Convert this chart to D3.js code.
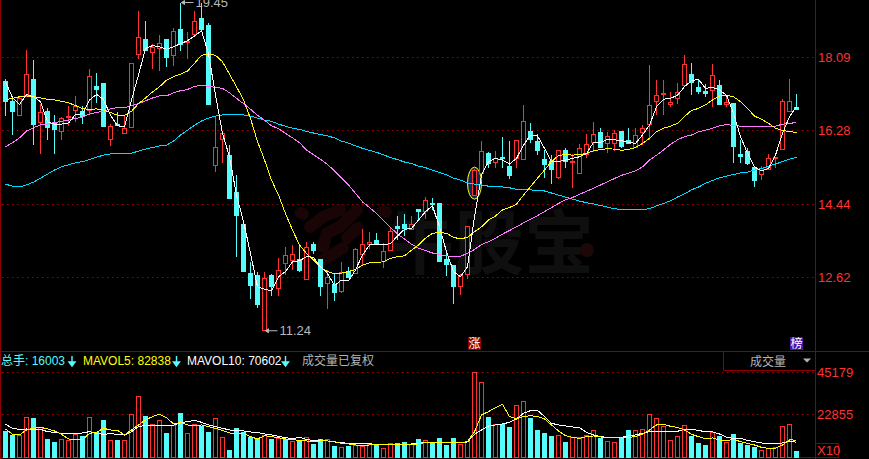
<!DOCTYPE html>
<html><head><meta charset="utf-8">
<script src="https://cdn.jsdelivr.net/npm/d3@7/dist/d3.min.js"></script>
<style>html,body{margin:0;padding:0;background:#000;overflow:hidden}svg{display:block}text{font-family:"Liberation Sans","Noto Sans CJK SC",sans-serif}</style>
</head><body><svg id="c" width="869" height="459"></svg>
<script>
const priceTicks=[18.09,16.28,14.44,12.62];
const volTicks=[45179,22855];
const opens=[17.50,17.00,16.65,17.15,17.55,16.46,16.75,16.44,16.24,16.60,16.76,16.75,16.78,17.36,17.45,16.05,16.43,16.20,16.34,18.15,18.54,18.20,18.31,18.54,18.13,18.79,18.45,18.65,19.06,18.89,15.41,16.05,15.64,14.74,13.93,12.73,12.67,11.30,12.66,12.35,12.96,13.06,13.06,12.57,13.43,13.06,12.49,12.46,12.27,12.77,12.73,13.19,13.45,13.55,13.01,13.30,13.90,13.93,13.83,14.31,14.27,14.45,14.45,13.06,12.91,12.39,12.68,14.66,15.21,15.69,15.46,15.60,15.39,15.59,15.55,16.25,16.01,15.54,15.50,15.12,15.78,15.48,15.22,15.68,15.99,16.23,15.96,15.96,16.24,16.02,15.86,16.24,16.43,16.99,17.15,16.91,17.07,17.39,17.66,17.35,17.25,17.25,17.40,16.92,16.95,15.68,15.74,15.36,15.18,15.31,15.58,15.82,16.75,16.85];
const closes=[17.00,16.74,17.07,17.66,16.43,16.72,16.36,16.28,16.57,16.61,16.86,16.63,17.62,17.29,16.38,16.38,16.41,16.32,17.94,18.58,18.27,18.33,18.43,18.09,18.73,18.42,18.48,18.98,18.79,16.93,15.85,16.19,14.58,14.18,12.77,12.44,11.94,12.60,12.38,12.80,13.17,13.20,12.78,13.37,13.29,12.39,12.63,12.27,12.74,12.62,13.32,13.45,13.49,13.45,13.27,13.77,13.85,13.82,13.95,14.26,14.54,14.44,13.01,12.94,12.39,12.66,13.88,15.27,15.75,15.44,15.57,15.59,15.17,16.03,16.50,16.04,15.79,15.41,15.29,15.78,15.51,15.51,15.83,15.93,16.18,15.86,16.13,16.20,15.86,15.95,16.15,16.33,16.90,17.13,17.18,16.96,17.22,17.92,17.46,17.26,17.21,17.63,16.93,16.98,15.87,15.62,15.44,15.03,15.32,15.58,15.60,17.00,17.00,16.81];
const highs=[17.56,17.11,17.11,18.27,18.02,16.94,16.84,16.65,16.61,16.88,17.13,16.88,17.79,17.69,17.45,16.43,16.74,16.65,17.94,19.24,18.99,18.43,18.64,18.54,18.82,19.45,18.72,19.24,19.45,18.93,16.61,16.24,15.91,15.17,13.93,13.01,12.77,12.77,12.71,13.10,13.39,13.43,13.43,13.51,13.51,13.06,12.82,12.71,13.01,12.89,13.35,13.82,13.74,13.72,13.47,13.84,14.15,14.21,14.15,14.31,14.61,14.59,14.45,13.22,12.91,12.71,13.88,15.31,16.01,15.75,15.76,16.11,16.01,16.03,16.91,16.46,16.18,15.79,15.66,15.78,15.83,15.69,15.94,16.18,16.48,16.33,16.23,16.28,16.26,16.33,16.33,16.41,17.90,17.53,17.53,17.24,17.44,18.15,17.94,17.54,17.43,17.92,17.53,17.13,16.95,16.04,15.83,15.37,15.39,15.70,15.60,17.05,17.54,17.18];
const lows=[16.64,16.16,16.65,17.11,15.91,15.68,16.03,15.68,16.03,16.38,16.49,16.43,16.65,16.96,16.38,15.88,16.38,16.20,16.34,18.04,18.27,17.81,17.75,17.85,17.87,18.24,18.06,18.60,18.72,16.93,15.25,15.46,14.58,13.14,12.77,12.09,11.87,11.30,12.17,12.17,12.68,12.81,12.77,12.57,13.20,12.17,11.84,12.05,12.24,12.62,12.71,12.93,13.32,13.43,12.87,13.30,13.55,13.65,13.80,14.05,14.07,14.30,13.01,12.67,11.96,12.19,12.58,14.66,15.21,15.35,15.34,15.34,15.07,15.34,15.55,15.95,15.66,15.09,14.94,15.07,15.35,14.84,15.22,15.58,15.75,15.83,15.72,15.76,15.83,15.93,15.83,15.91,16.04,16.66,16.66,16.86,16.93,17.39,17.15,17.18,17.10,16.86,16.90,16.86,15.47,15.47,15.41,14.88,15.04,15.29,15.33,15.82,16.75,16.80];
const ma5=[17.48,17.09,16.92,17.17,17.11,16.99,16.49,16.43,16.43,16.46,16.67,16.69,17.03,17.17,17.04,16.65,16.39,16.36,17.03,17.65,18.31,18.38,18.35,18.29,18.35,18.43,18.50,18.62,18.75,18.18,17.15,16.20,15.62,14.67,14.01,13.22,12.39,12.33,12.29,12.64,12.77,13.01,13.04,13.14,13.12,12.89,12.72,12.42,12.56,12.54,12.81,13.18,13.43,13.45,13.43,13.47,13.65,13.82,13.84,14.05,14.26,14.40,13.88,13.26,12.77,12.64,12.89,14.13,15.17,15.50,15.58,15.54,15.44,15.58,15.91,16.16,16.14,15.83,15.50,15.50,15.54,15.58,15.62,15.70,15.98,15.98,16.05,16.04,16.02,15.98,15.95,16.16,16.41,16.86,17.05,17.07,17.15,17.36,17.51,17.54,17.32,17.34,17.28,17.15,16.70,16.12,15.71,15.37,15.27,15.33,15.66,16.20,16.62,16.86];
const ma10=[17.04,17.07,17.11,17.13,17.11,17.08,17.05,17.03,17.00,16.96,16.89,16.82,16.79,16.81,16.78,16.72,16.65,16.65,16.75,16.94,17.08,17.23,17.36,17.52,17.61,17.67,17.75,17.94,18.14,18.17,18.14,17.98,17.67,17.36,17.03,16.57,16.00,15.54,15.04,14.67,14.21,13.80,13.43,13.22,13.06,12.87,12.77,12.71,12.73,12.77,12.82,12.93,12.99,13.00,13.01,13.10,13.14,13.16,13.30,13.43,13.60,13.72,13.74,13.72,13.62,13.58,13.62,13.76,13.88,14.05,14.15,14.30,14.36,14.44,14.67,14.88,15.09,15.29,15.50,15.65,15.68,15.66,15.68,15.70,15.77,15.80,15.82,15.81,15.78,15.80,15.85,15.95,16.08,16.24,16.33,16.38,16.45,16.62,16.77,16.82,16.91,17.03,17.13,17.15,17.11,16.99,16.82,16.63,16.55,16.45,16.33,16.27,16.25,16.22];
const ma30=[15.87,15.97,16.09,16.26,16.34,16.41,16.43,16.47,16.50,16.53,16.57,16.61,16.68,16.72,16.75,16.81,16.84,16.84,16.89,16.94,17.01,17.08,17.13,17.13,17.21,17.26,17.29,17.37,17.39,17.37,17.34,17.32,17.21,17.07,16.94,16.80,16.65,16.53,16.39,16.32,16.20,16.09,15.97,15.79,15.67,15.56,15.43,15.27,15.09,14.92,14.71,14.50,14.36,14.21,14.04,13.87,13.70,13.58,13.45,13.35,13.29,13.23,13.19,13.16,13.14,13.15,13.22,13.32,13.44,13.51,13.60,13.70,13.79,13.88,13.98,14.07,14.16,14.26,14.36,14.46,14.55,14.61,14.69,14.76,14.84,14.92,15.00,15.08,15.16,15.21,15.27,15.37,15.54,15.66,15.79,15.93,16.04,16.12,16.16,16.24,16.28,16.33,16.39,16.42,16.40,16.38,16.38,16.37,16.36,16.36,16.38,16.43,16.45,16.47];
const ma60=[14.94,14.89,14.87,14.92,14.99,15.09,15.19,15.29,15.37,15.42,15.47,15.50,15.55,15.61,15.66,15.69,15.70,15.71,15.71,15.76,15.81,15.85,15.89,15.91,16.01,16.16,16.28,16.40,16.51,16.58,16.63,16.66,16.67,16.67,16.66,16.63,16.58,16.53,16.50,16.43,16.38,16.33,16.30,16.25,16.21,16.17,16.14,16.09,16.01,15.96,15.89,15.83,15.78,15.73,15.67,15.60,15.55,15.49,15.45,15.39,15.35,15.29,15.23,15.17,15.09,15.04,14.97,14.94,14.92,14.89,14.88,14.87,14.85,14.81,14.80,14.80,14.78,14.77,14.72,14.67,14.62,14.57,14.52,14.48,14.45,14.41,14.37,14.33,14.31,14.30,14.30,14.31,14.33,14.40,14.46,14.53,14.62,14.70,14.80,14.87,14.96,15.03,15.10,15.14,15.18,15.22,15.24,15.29,15.33,15.39,15.44,15.50,15.56,15.61];
const volumes=[13350,11214,11570,21182,20292,15486,9078,7476,9434,8900,11926,10680,21182,13172,19224,8544,8544,8900,22784,32396,21360,17088,19580,12282,16910,22962,12638,17444,16020,12816,20648,10502,3204,15308,13172,10324,9078,11392,9078,9612,9078,8366,8722,10502,6408,9434,9256,5340,5162,5340,6052,5340,6408,5874,4628,7298,7298,7832,6408,9078,8900,6942,9612,5874,9612,6764,8366,45179,39872,20826,17088,17088,15486,27590,29726,20292,13884,12282,10680,11570,7476,10146,10146,11570,14240,9612,8366,7832,9790,13884,14240,14774,22428,20648,16020,8900,10680,16910,10680,6942,5874,13172,10680,7476,11748,6942,5874,4806,3560,4272,4806,16376,17444,2670];
const volUp=[0,0,1,1,0,1,0,0,1,1,1,0,1,0,0,1,0,1,1,1,0,1,1,0,1,0,1,1,0,0,1,1,0,0,0,0,0,1,0,1,0,1,0,1,0,0,1,0,1,0,1,1,1,0,1,1,0,0,1,0,1,0,0,0,0,1,1,1,1,0,1,0,0,1,1,0,0,0,0,1,0,1,1,1,1,0,1,1,0,0,1,1,1,1,1,1,1,1,0,0,0,1,0,1,0,0,0,0,1,1,1,1,1,0];
const mavol5=[14950,12100,11750,14420,15310,15840,14950,13880,12100,9610,9260,9260,12640,13170,15310,14420,14240,11750,14420,17090,19760,21540,22780,21000,17620,18330,17090,16730,17090,16200,15310,14060,12820,12640,12640,10860,9610,11390,10860,10320,9610,9430,8720,8540,8190,8540,8540,8190,7300,6940,6410,6050,6410,6410,6590,6590,6410,6410,6410,7120,7650,7650,7650,7650,7650,7650,8190,13530,22430,24210,26340,28120,21540,20290,21540,22070,21540,20290,17090,13880,11390,10500,9970,10860,11210,10680,10320,10320,10320,10500,10860,12100,14420,17090,17440,16380,15840,14420,12100,10860,9790,10150,9080,8720,9430,8190,7300,6410,5160,4630,4630,6410,9260,8900];
const mavol10=[17440,15310,14770,14950,14770,14770,13530,13170,12640,12460,12460,12820,13530,12640,12100,12460,12100,11750,13530,16200,16910,16910,16910,16910,16910,18330,18870,19580,18510,17090,16200,15310,14420,14240,13880,13350,13170,12280,11750,11040,10320,9790,10500,9430,8720,9080,8540,8010,7650,7300,7300,7300,7120,6590,6760,6760,6760,6760,6940,7300,7830,7830,7830,7830,7830,7830,8010,12100,14420,16550,17090,17620,18510,20290,23320,24740,24920,21540,17980,17090,16550,16020,15660,13170,11750,10860,10500,10500,10500,11210,11750,12640,13530,13710,13710,13710,13710,14770,14770,14240,13350,13350,12280,10500,9970,9970,8900,8190,7480,7300,7300,7480,8540,7830];
const peakLabel="19.45", troughLabel="11.24";
const peakIdx=25, troughIdx=37;
const legendTexts=[["总手: 16003",1,"#54fcfc"],["MAVOL5: 82838",83,"#ffff00"],["MAVOL10: 70602",187,"#ffffff"],["成交量已复权",302,"#b4b4b4"]];

const svg=d3.select("#c");
const RED="#ff3232",CYAN="#54fcfc",FRAME="#8c0000";
const x=d3.scaleLinear().domain([0,113]).range([5.5,796.5]);
const y=d3.scaleLinear().domain([18.09,12.62]).range([57.3,277.6]);
const yv=d3.scaleLinear().domain([0,45179]).range([457,372.3]);
const px=v=>Math.round(v-.5)+.5;

// watermark
const wm=svg.append("g");
wm.append("path").attr("d","M301 213 L303 214 M310 227 L323 217 L340 210 M323 247 L327 233 L340 227 L357 210 M323 260 L343 248 M383 211 L386 212 M347 238 L358 228")
  .attr("fill","none").attr("stroke","#190505").attr("stroke-width",12).attr("stroke-linecap","round").attr("stroke-linejoin","round");
wm.append("text").attr("x",384).attr("y",269).attr("font-size",70).attr("font-weight","bold").attr("fill","#0f0f0f")
  .attr("font-family","Noto Sans CJK SC").text("牛股宝");
wm.append("circle").attr("cx",587).attr("cy",250).attr("r",7).attr("fill","#1d0707");

// grid
const dot=(yy)=>svg.append("line").attr("x1",2).attr("x2",815).attr("y1",yy).attr("y2",yy).attr("stroke","#a00000").attr("stroke-dasharray","1.5 3.5");
priceTicks.forEach(t=>dot(px(y(t))));
volTicks.forEach(t=>dot(px(yv(t))));

// frame
const fr=svg.append("g").attr("stroke",FRAME).attr("fill","none").attr("shape-rendering","crispEdges");
fr.append("line").attr("x1",.5).attr("x2",.5).attr("y1",0).attr("y2",459);
fr.append("line").attr("x1",815.5).attr("x2",815.5).attr("y1",0).attr("y2",459);
fr.append("line").attr("x1",0).attr("x2",869).attr("y1",351.5).attr("y2",351.5);
fr.append("line").attr("x1",0).attr("x2",816).attr("y1",457.5).attr("y2",457.5);
fr.append("rect").attr("x",723.5).attr("y",351.5).attr("width",92).attr("height",19);
fr.append("rect").attr("x",815.5).attr("y",443.5).attr("width",23).attr("height",14);

// marker ellipse behind the big-volume candle
svg.append("ellipse").attr("cx",x(67)).attr("cy",(y(closes[67])+y(opens[67]))/2).attr("rx",7).attr("ry",16)
  .attr("fill","#0a2a5e").attr("stroke","#ffff00").attr("stroke-width",1);

// candles
const idx=d3.range(opens.length);
const cg=svg.append("g").attr("shape-rendering","crispEdges");
const candle=cg.selectAll("g").data(idx).join("g");
candle.append("line").attr("x1",i=>x(i)).attr("x2",i=>x(i))
  .attr("y1",i=>y(highs[i])).attr("y2",i=>y(lows[i]))
  .attr("stroke",i=>closes[i]>=opens[i]?RED:CYAN);
candle.append("rect")
  .attr("x",i=>x(i)-2).attr("width",4)
  .attr("y",i=>px(y(Math.max(opens[i],closes[i]))))
  .attr("height",i=>Math.max(1,Math.round(Math.abs(y(opens[i])-y(closes[i])))))
  .attr("fill",i=>closes[i]>=opens[i]?"#000":CYAN)
  .attr("stroke",i=>closes[i]>=opens[i]?RED:CYAN);

// moving averages
const line=d3.line().x((d,i)=>x(i)).y(d=>y(d));
[[ma60,"#00dcff"],[ma30,"#ff78ff"],[ma10,"#ffff00"],[ma5,"#ffffff"]].forEach(([d,c])=>{
  svg.append("path").attr("d",line(d)).attr("fill","none").attr("stroke",c).attr("stroke-width",1).attr("shape-rendering","crispEdges");
});

// peak & trough
const note=(i,val,txt,yOff)=>{
  const yy=y(val)+yOff, xx=x(i);
  const g=svg.append("g").attr("stroke","#b8b8b8").attr("fill","none");
  g.append("line").attr("x1",xx+1).attr("x2",xx+13).attr("y1",yy).attr("y2",yy);
  g.append("path").attr("d",`M${xx+1} ${yy}l3 -2v4z`).attr("fill","#b8b8b8");
  svg.append("text").attr("x",xx+15).attr("y",yy+4.5).attr("font-size",13).attr("fill","#b8b8b8").text(txt);
};
note(peakIdx,highs[peakIdx],peakLabel,0);
note(troughIdx,lows[troughIdx],troughLabel,0);

// badges
const badge=(i,c,t)=>{
  svg.append("rect").attr("x",x(i)-6.5).attr("y",337).attr("width",13).attr("height",13).attr("fill",c);
  svg.append("text").attr("x",x(i)).attr("y",348).attr("text-anchor","middle").attr("font-size",12).attr("fill","#fff").attr("font-family","Noto Sans CJK SC").text(t);
};
badge(67,"#8c0000","涨");badge(113,"#4a149c","榜");

// axis labels
priceTicks.forEach(t=>svg.append("text").attr("x",818).attr("y",y(t)+4.5).attr("font-size",13).attr("fill",RED).text(t.toFixed(2)));
volTicks.forEach(t=>svg.append("text").attr("x",817).attr("y",yv(t)+4.5).attr("font-size",13).attr("fill",RED).text(t));
svg.append("text").attr("x",817).attr("y",455).attr("font-size",13).attr("fill",RED).text("X10");

// legend
legendTexts.forEach(([t,lx,c])=>svg.append("text").attr("x",lx).attr("y",365).attr("font-size",12).attr("fill",c).text(t));
[[72],[176.5],[285.5]].forEach(([ax])=>{
  svg.append("path").attr("d",`M${ax} 356v9M${ax-3} 362l3 4l3 -4z`).attr("stroke",CYAN).attr("fill",CYAN).attr("stroke-width",1.4);
});
svg.append("text").attr("x",750).attr("y",365.5).attr("font-size",12).attr("fill","#b4b4b4").text("成交量");
svg.append("path").attr("d","M803 358.5h8l-4 4z").attr("fill","#b4b4b4");

// volume
const vg=svg.append("g").attr("shape-rendering","crispEdges");
vg.selectAll("rect").data(idx).join("rect")
  .attr("x",i=>x(i)-2).attr("width",4)
  .attr("y",i=>px(yv(volumes[i])))
  .attr("height",i=>457-px(yv(volumes[i])))
  .attr("fill",i=>volUp[i]?"#000":CYAN)
  .attr("stroke",i=>volUp[i]?RED:CYAN);
const vline=d3.line().x((d,i)=>x(i)).y(d=>yv(d));
[[mavol10,"#ffffff"],[mavol5,"#ffff00"]].forEach(([d,c])=>{
  svg.append("path").attr("d",vline(d)).attr("fill","none").attr("stroke",c).attr("stroke-width",1).attr("shape-rendering","crispEdges");
});
</script></body></html>
